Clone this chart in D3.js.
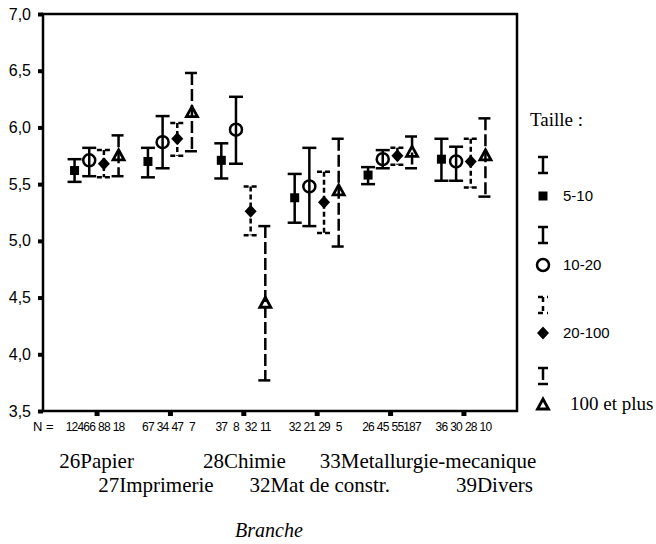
<!DOCTYPE html>
<html>
<head>
<meta charset="utf-8">
<script src="https://cdn.jsdelivr.net/npm/d3@7"></script>
<style>
  html, body { margin: 0; padding: 0; background: #fff; }
  svg { display: block; }
</style>
</head>
<body>
<svg id="chart" width="656" height="544"></svg>
<script>
// ---------------- DATA ----------------
const categories = ["26Papier", "27Imprimerie", "28Chimie", "32Mat de constr.", "33Metallurgie-mecanique", "39Divers"];
const groups = ["5-10", "10-20", "20-100", "100 et plus"];
const yTicks = [3.5, 4.0, 4.5, 5.0, 5.5, 6.0, 6.5, 7.0];

const mean5_10  = [5.62, 5.70, 5.71, 5.38, 5.58, 5.72];
const low5_10   = [5.52, 5.56, 5.55, 5.16, 5.50, 5.53];
const high5_10  = [5.72, 5.82, 5.86, 5.59, 5.65, 5.90];

const mean10_20 = [5.71, 5.87, 5.98, 5.48, 5.72, 5.70];
const low10_20  = [5.57, 5.64, 5.68, 5.13, 5.64, 5.53];
const high10_20 = [5.82, 6.10, 6.27, 5.82, 5.80, 5.83];

const mean20_100 = [5.68, 5.90, 5.26, 5.34, 5.75, 5.70];
const low20_100  = [5.56, 5.75, 5.05, 5.07, 5.67, 5.47];
const high20_100 = [5.80, 6.04, 5.48, 5.61, 5.82, 5.90];

const mean100 = [5.75, 6.13, 4.45, 5.44, 5.78, 5.75];
const low100  = [5.57, 5.79, 3.77, 4.95, 5.64, 5.39];
const high100 = [5.93, 6.48, 5.13, 5.90, 5.92, 6.08];

const n5_10   = [124, 67, 37, 32, 26, 36];
const n10_20  = [66, 34, 8, 21, 45, 30];
const n20_100 = [88, 47, 32, 29, 55, 28];
const n100    = [18, 7, 11, 5, 187, 10];

// ---------------- LAYOUT / STYLE ----------------
const frame = { left: 43, right: 517, top: 14, bottom: 411 };
const seriesDef = [
  { name: groups[0], mean: mean5_10,   low: low5_10,   high: high5_10,   n: n5_10,   symbol: "square",   dash: null },
  { name: groups[1], mean: mean10_20,  low: low10_20,  high: high10_20,  n: n10_20,  symbol: "circle",   dash: null },
  { name: groups[2], mean: mean20_100, low: low20_100, high: high20_100, n: n20_100, symbol: "diamond",  dash: "5,3" },
  { name: groups[3], mean: mean100,    low: low100,    high: high100,    n: n100,    symbol: "triangle", dash: "12,4" }
];
// label offsets (layout only) for the two rows of category labels
const labelRow = [0, 1, 0, 1, 0, 1];
const labelShift = [0, -14, 1, 3, 38, 31];

const svg = d3.select("#chart");

const x = d3.scalePoint().domain(categories).range([frame.left, frame.right]).padding(0.73);
const sub = d3.scalePoint().domain(groups).range([-22, 22]);
const y = d3.scaleLinear().domain([3.5, 7.0]).range([frame.bottom, frame.top]);

const fmt = v => d3.format(".1f")(v).replace(".", ",");

// Y axis
const yAxis = d3.axisLeft(y).tickValues(yTicks).tickSize(5).tickPadding(7).tickFormat(fmt);
const gy = svg.append("g").attr("transform", `translate(${frame.left},0)`).call(yAxis);
gy.select(".domain").remove();
gy.selectAll(".tick line").attr("stroke", "#000").attr("stroke-width", 4);
gy.selectAll(".tick text").attr("font-family", "Liberation Sans, Arial, sans-serif").attr("font-size", 16).attr("fill", "#000");

// X axis (ticks only)
const xAxis = d3.axisBottom(x).tickSize(5).tickFormat("");
const gx = svg.append("g").attr("transform", `translate(0,${frame.bottom})`).call(xAxis);
gx.select(".domain").remove();
gx.selectAll(".tick line").attr("stroke", "#000").attr("stroke-width", 5);

// frame
svg.append("rect")
  .attr("x", frame.left).attr("y", frame.top)
  .attr("width", frame.right - frame.left).attr("height", frame.bottom - frame.top)
  .attr("fill", "none").attr("stroke", "#000").attr("stroke-width", 2.5);

// symbols
function drawMarker(g, type, cx, cy) {
  if (type === "square") {
    g.append("rect").attr("x", cx - 4.5).attr("y", cy - 4.5).attr("width", 9).attr("height", 9).attr("fill", "#000");
  } else if (type === "circle") {
    g.append("circle").attr("cx", cx).attr("cy", cy).attr("r", 6).attr("fill", "none").attr("stroke", "#000").attr("stroke-width", 2.5);
  } else if (type === "diamond") {
    g.append("path").attr("d", `M${cx},${cy - 6.5}L${cx + 6},${cy}L${cx},${cy + 6.5}L${cx - 6},${cy}Z`).attr("fill", "#000");
  } else if (type === "triangle") {
    g.append("path").attr("d", `M${cx},${cy - 6}L${cx + 5.5},${cy + 4}L${cx - 5.5},${cy + 4}Z`)
      .attr("fill", "none").attr("stroke", "#000").attr("stroke-width", 2.8).attr("stroke-linejoin", "miter");
  }
}

function drawBar(g, cx, yTop, yBot, dash, capW) {
  const line = (x1, y1, x2, y2) => {
    const l = g.append("line").attr("x1", x1).attr("y1", y1).attr("x2", x2).attr("y2", y2)
      .attr("stroke", "#000").attr("stroke-width", 2.5);
    if (dash) l.attr("stroke-dasharray", dash);
  };
  line(cx, yTop, cx, yBot);
  line(cx - capW / 2, yTop, cx + capW / 2, yTop);
  line(cx - capW / 2, yBot, cx + capW / 2, yBot);
}

const plot = svg.append("g");
seriesDef.forEach(s => {
  categories.forEach((c, i) => {
    const cx = x(c) + sub(s.name);
    const g = plot.append("g");
    drawBar(g, cx, y(s.high[i]), y(s.low[i]), s.dash, 14);
    drawMarker(g, s.symbol, cx, y(s.mean[i]));
  });
});

// N labels
svg.append("text").attr("x", 33).attr("y", 431)
  .attr("font-family", "Liberation Sans, Arial, sans-serif").attr("font-size", 13).text("N =");
seriesDef.forEach(s => {
  categories.forEach((c, i) => {
    svg.append("text")
      .attr("x", x(c) + sub(s.name)).attr("y", 431)
      .attr("text-anchor", "middle")
      .attr("letter-spacing", -0.8)
      .attr("font-family", "Liberation Sans, Arial, sans-serif").attr("font-size", 12)
      .text(s.n[i]);
  });
});

// category labels
categories.forEach((c, i) => {
  svg.append("text")
    .attr("x", x(c) + labelShift[i])
    .attr("y", labelRow[i] === 0 ? 468 : 492)
    .attr("text-anchor", "middle")
    .attr("font-family", "Liberation Serif, Times New Roman, serif")
    .attr("font-size", 21)
    .text(c);
});

// axis title
svg.append("text").attr("x", 269).attr("y", 537).attr("text-anchor", "middle")
  .attr("font-family", "Liberation Serif, Times New Roman, serif").attr("font-size", 20)
  .attr("font-style", "italic").text("Branche");

// legend
const leg = svg.append("g");
leg.append("text").attr("x", 530).attr("y", 126)
  .attr("font-family", "Liberation Serif, Times New Roman, serif").attr("font-size", 19).text("Taille :");
const legBarY = [165, 235, 305, 376];
const legMarkY = [196, 265, 333, 405];
seriesDef.forEach((s, i) => {
  drawBar(leg, 543, legBarY[i] - 8, legBarY[i] + 8, s.dash ? (i === 2 ? "5,4" : s.dash) : null, 10);
  drawMarker(leg, s.symbol, 543, legMarkY[i]);
  const t = leg.append("text").attr("y", legMarkY[i] + 5).text(s.name);
  if (i === 3) {
    t.attr("x", 570).attr("font-family", "Liberation Serif, Times New Roman, serif").attr("font-size", 19);
  } else {
    t.attr("x", 563).attr("font-family", "Liberation Sans, Arial, sans-serif").attr("font-size", 15);
  }
});
</script>
</body>
</html>
